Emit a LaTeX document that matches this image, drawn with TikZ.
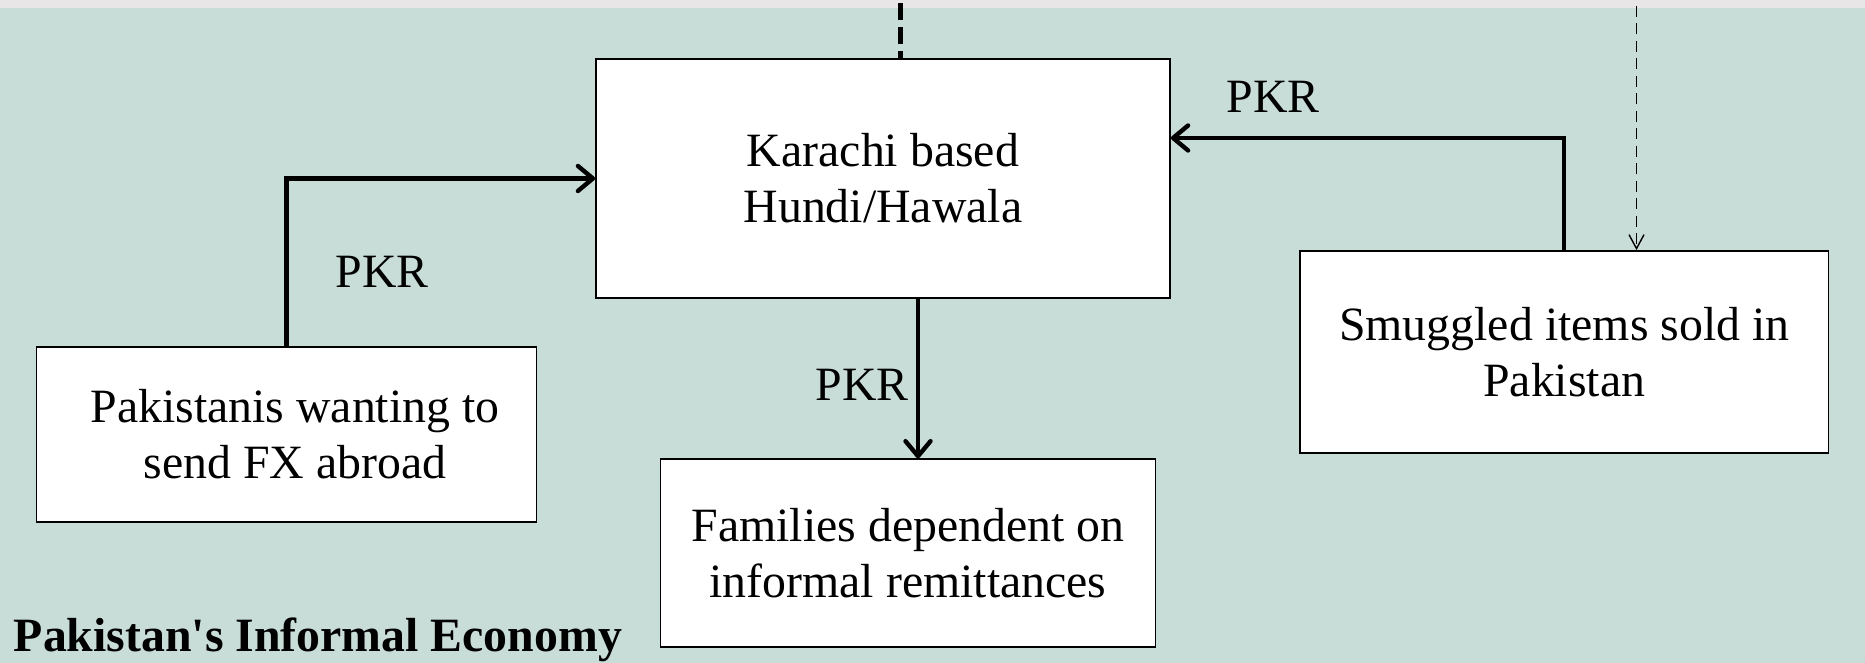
\documentclass[tikz,border=0pt]{standalone}
\usepackage{fontspec}
\setmainfont{Liberation Serif}
\usetikzlibrary{arrows.meta,positioning}
\definecolor{sage}{RGB}{201,221,216}
\definecolor{band}{RGB}{232,230,230}
\newcommand{\bigtxt}{\fontsize{27.2}{31.9}\selectfont}

\begin{document}
\begin{tikzpicture}[
  box/.style 2 args={rectangle, draw=black, line width=1pt, fill=white,
    minimum width=#1, minimum height=#2, inner sep=0pt,
    align=center, font=\bigtxt},
  lbl/.style={font=\bigtxt, inner sep=0pt},
  flow/.style={line width=2.5pt, -{Straight Barb[length=0.3cm,width=0.5cm,round]}},
  link/.style={line width=2.5pt, dash pattern=on 0.34cm off 0.14cm}
]
\useasboundingbox (0,0) rectangle (37.3,13.26);
% Background
\fill[sage] (0,0) rectangle (37.3,13.10);
\fill[band] (0,13.10) rectangle (37.3,13.26);
% Boxes
\node[box={11.48cm}{4.78cm}] (karachi) at (17.66,9.69) {Karachi based\\Hundi/Hawala};
\node[box={10.57cm}{4.04cm}] (smug) at (31.285,6.22) {Smuggled items sold in\\Pakistan};
\node[box={10.0cm}{3.51cm}] (pak) at (5.73,4.57)
  {\hspace*{0.34cm}Pakistanis wanting to\\\hspace*{0.34cm}send FX abroad};
\node[box={9.90cm}{3.75cm}] (fam) at (18.16,2.20) {Families dependent on\\informal remittances};
% Links coming in from above
\coordinate (topA) at ([xshift=0.35cm]karachi.north |- 0,13.20);
\coordinate (topB) at ([xshift=1.445cm]smug.north |- 0,13.14);
\draw[link] (topA) -- (topA |- karachi.north);
\draw[line width=0.8pt, dash pattern=on 0.22cm off 0.13cm,
  -{Straight Barb[length=0.28cm,width=0.3cm]}] (topB) -- (topB |- smug.north);
% PKR flows
\draw[flow] (pak.north) |- (karachi.west);
\draw[flow] (smug.north) |- ([yshift=0.81cm]karachi.east);
\draw[flow] ([xshift=0.70cm]karachi.south) -- ([xshift=0.70cm]karachi.south |- fam.north);
\node[lbl] (pkrA) at (7.64,7.82) {PKR};
\node[lbl] (pkrB) at (25.46,11.32) {PKR};
\node[lbl] (pkrC) at (17.24,5.56) {PKR};
% Title
\node[lbl, font=\bigtxt\bfseries, anchor=base west] (title) at (0.27,0.22)
  {Pakistan\textquotesingle s Informal Economy};
\end{tikzpicture}
\end{document}
